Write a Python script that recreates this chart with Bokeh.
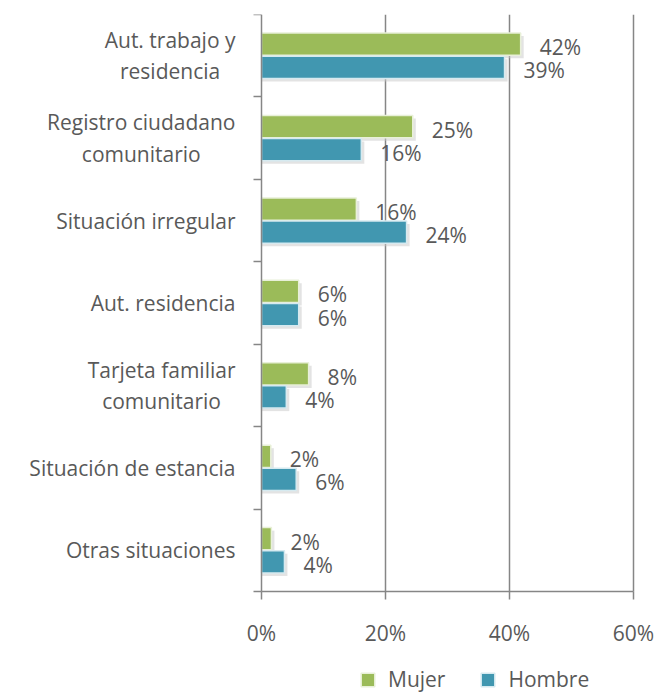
from bokeh.plotting import figure
from bokeh.models import ColumnDataSource, FixedTicker, Legend, LegendItem
from bokeh.core.properties import value
from bokeh.embed import file_html
from bokeh.resources import INLINE

categories = ["Aut. trabajo y\nresidencia", "Registro ciudadano\ncomunitario", "Situación irregular",
              "Aut. residencia", "Tarjeta familiar\ncomunitario", "Situación de estancia", "Otras situaciones"]
mujer = [41.8, 24.4, 15.3, 6.0, 7.6, 1.5, 1.6]
hombre = [39.2, 16.1, 23.4, 6.0, 4.0, 5.6, 3.7]
mujer_labels = ["42%", "25%", "16%", "6%", "8%", "2%", "2%"]
hombre_labels = ["39%", "16%", "24%", "6%", "4%", "6%", "4%"]
x_ticks = [0, 20, 40, 60]
x_tick_labels = ["0%", "20%", "40%", "60%"]

GREEN = "#9BBB59"
BLUE = "#4197B0"
GRAY = "#595959"
LINE = "#868686"
FONT = "Open Sans"
FS = "21px"

n = len(categories)
centers = [n - 0.5 - i for i in range(n)]
dodge = 0.14
bar_h = 0.27

# ---- layout (pixels) ----
W, H = 660, 692
LEFT_BORDER, TOP_BORDER = 12, 14
AXIS_X0 = 261          # screen x of 0 %
AXIS_X60 = 633         # screen x of 60 %
AXIS_Y0 = 591          # screen y of the category axis bottom
px_x = (AXIS_X60 - AXIS_X0) / 60
px_y = (AXIS_Y0 - TOP_BORDER) / n
x_start = -(AXIS_X0 - LEFT_BORDER) / px_x
x_end = 60 + (W - AXIS_X60) / px_x
y_start = n - (H - TOP_BORDER) / px_y

p = figure(width=W, height=H, x_range=(x_start, x_end), y_range=(y_start, n),
           output_backend="svg", toolbar_location=None,
           x_axis_location="above", y_axis_location="left",
           min_border_left=LEFT_BORDER, min_border_right=0,
           min_border_top=TOP_BORDER, min_border_bottom=0)
p.outline_line_color = None
p.background_fill_color = "white"
p.xgrid.visible = False
p.ygrid.visible = False

src_m = ColumnDataSource(dict(y=[c + dodge for c in centers], v=mujer, lab=mujer_labels))
src_h = ColumnDataSource(dict(y=[c - dodge for c in centers], v=hombre, lab=hombre_labels))

# vertical grid lines
grid_x = x_ticks[1:]
p.segment(x0=grid_x, x1=grid_x, y0=[0] * len(grid_x), y1=[n] * len(grid_x),
          line_color=LINE, line_width=1.5)

# soft shadows (offset a few pixels down/right)
sh_dy = 3 / px_y
sh_dx = 3 / px_x
shadow_m = ColumnDataSource(dict(y=[c + dodge - sh_dy for c in centers], v=[m + sh_dx for m in mujer]))
shadow_h = ColumnDataSource(dict(y=[c - dodge - sh_dy for c in centers], v=[h + sh_dx for h in hombre]))
p.hbar(y="y", right="v", left=0, height=bar_h, source=shadow_m, fill_color="#c8c8c8", fill_alpha=0.5, line_color=None)
p.hbar(y="y", right="v", left=0, height=bar_h, source=shadow_h, fill_color="#c8c8c8", fill_alpha=0.5, line_color=None)

rm = p.hbar(y="y", right="v", left=0, height=bar_h, source=src_m, fill_color=GREEN,
            line_color="#e8f0d8", line_width=1.5)
rh = p.hbar(y="y", right="v", left=0, height=bar_h, source=src_h, fill_color=BLUE,
            line_color="#d6eaf0", line_width=1.5)

# value labels
for src in (src_m, src_h):
    p.text(x="v", y="y", text="lab", source=src, x_offset=19, y_offset=3,
           text_align="left", text_baseline="middle", text_color=GRAY,
           text_font=value(FONT), text_font_size=FS)

# category labels
p.text(x=[0] * n, y=centers, text=categories, x_offset=-26, anchor="center_right",
       text_align="center", text_baseline="middle", text_color=GRAY,
       text_font=value(FONT), text_font_size=FS, text_line_height=1.12)

# x tick labels
p.text(x=x_ticks, y=[0] * len(x_ticks), text=x_tick_labels, y_offset=41,
       text_align="center", text_baseline="middle", text_color=GRAY,
       text_font=value(FONT), text_font_size=FS)

# x axis drawn at y = 0, ticks pointing down
xa = p.xaxis[0]
xa.fixed_location = 0
xa.bounds = (0, 60)
xa.ticker = FixedTicker(ticks=x_ticks)
xa.major_label_text_font_size = "0px"
xa.major_label_overrides = {t: "" for t in x_ticks}
xa.major_label_standoff = 0
xa.axis_line_color = LINE
xa.axis_line_width = 1.5
xa.major_tick_line_color = LINE
xa.major_tick_line_width = 1.5
xa.major_tick_in = 8
xa.major_tick_out = 0
xa.minor_tick_line_color = None

# y axis drawn at x = 0, ticks at category boundaries
ya = p.yaxis[0]
ya.fixed_location = 0
ya.bounds = (0, n)
ya.ticker = FixedTicker(ticks=list(range(n + 1)))
ya.major_label_text_font_size = "0px"
ya.major_label_overrides = {i: "" for i in range(n + 1)}
ya.major_label_standoff = 0
ya.axis_line_color = LINE
ya.axis_line_width = 1.5
ya.major_tick_line_color = LINE
ya.major_tick_line_width = 1.5
ya.major_tick_out = 8
ya.major_tick_in = 0
ya.minor_tick_line_color = None

legend = Legend(items=[LegendItem(label="Mujer", renderers=[rm]),
                       LegendItem(label="Hombre", renderers=[rh])],
                orientation="horizontal", location=(359 - LEFT_BORDER, -1),
                label_text_font=FONT, label_text_font_size=FS, label_text_color=GRAY,
                glyph_width=17, glyph_height=17, label_standoff=12, spacing=34,
                padding=0, margin=0, border_line_color=None, background_fill_alpha=0)
p.add_layout(legend, "center")

open("out.html", "w").write(file_html(p, INLINE))
